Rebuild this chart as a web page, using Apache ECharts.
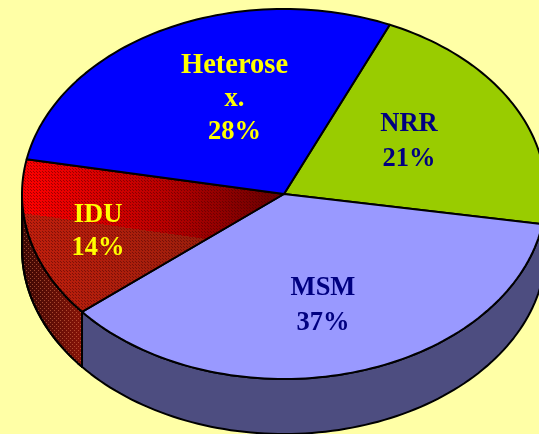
<!DOCTYPE html>
<html>
<head>
<meta charset="utf-8">
<style>
  html, body { margin: 0; padding: 0; background: #ffffa6; }
  #main { width: 539px; height: 434px; }
</style>
<script src="https://cdn.jsdelivr.net/npm/echarts@6/dist/echarts.min.js"></script>
</head>
<body>
<div id="main"></div>
<script>
// clockwise from the first slice, same order as the picture
const categories = ['NRR', 'MSM', 'IDU', 'Heterose\nx.'];
const percentLabels = ['21%', '37%', '14%', '28%'];
// slice sizes, they differ a little from the printed labels
const shares = [21, 36.4, 14, 28.6];

const startAngle = 23.8;
const depth = 55;
const topColors = ['#99cc00', '#9999ff', '#ff0000', '#0000ff'];
const sideColors = ['#4d6600', '#4d4d80', '#6a1008', '#000080'];
const textColors = ['#000080', '#000080', '#ffff00', '#ffff00'];
const labelPos = [[409, 142], [323, 306], [98, 232], [234.5, 99]];

function dither(size, color) {
  const c = document.createElement('canvas');
  c.width = c.height = size;
  const ctx = c.getContext('2d');
  ctx.fillStyle = color;
  ctx.fillRect(0, 0, 1, 1);
  ctx.fillRect(Math.floor(size / 2), Math.floor(size / 2), 1, 1);
  return c;
}
const topDots = { image: dither(3, 'rgba(60,0,0,0.45)'), repeat: 'repeat' };
const sideDots = { image: dither(4, 'rgba(220,120,80,0.55)'), repeat: 'repeat' };

const rows = [];
let acc = startAngle;
shares.forEach(function (s, i) {
  const sweep = s * 3.6;
  rows.push([acc, acc + sweep, i]);
  acc += sweep;
});

function renderSlice(params, api) {
  const a0 = api.value(0), a1 = api.value(1), i = api.value(2);
  const rim = function (deg) {
    const r = deg * Math.PI / 180;
    return api.coord([Math.sin(r), Math.cos(r)]);
  };
  const arc = function (from, to, dy) {
    const pts = [];
    const n = Math.ceil(Math.abs(to - from) / 1.5);
    for (let k = 0; k <= n; k++) {
      const p = rim(from + (to - from) * k / n);
      pts.push([p[0], p[1] + dy]);
    }
    return pts;
  };
  const children = [];
  const stroke = { stroke: '#000', lineWidth: 2, lineJoin: 'round' };

  // wall, only the part facing the viewer
  const s0 = Math.max(a0, 90), s1 = Math.min(a1, 270);
  if (s1 > s0) {
    const wall = arc(s0, s1, 0).concat(arc(s1, s0, depth));
    let wallFill = sideColors[i];
    if (categories[i] === 'IDU') {
      wallFill = {
        type: 'linear', global: true, x: 22, y: 0, x2: 84, y2: 0,
        colorStops: [{ offset: 0, color: '#3a0804' }, { offset: 1, color: '#8a1408' }]
      };
    }
    children.push({ type: 'polygon', shape: { points: wall }, style: Object.assign({ fill: wallFill }, stroke) });
    if (categories[i] === 'IDU') {
      children.push({ type: 'polygon', shape: { points: wall }, style: { fill: sideDots } });
      children.push({ type: 'polygon', shape: { points: wall }, style: Object.assign({ fill: 'none' }, stroke) });
    }
  }

  // top face
  const face = [api.coord([0, 0])].concat(arc(a0, a1, 0));
  if (categories[i] === 'IDU') {
    children.push({
      type: 'polygon', shape: { points: face },
      style: {
        fill: {
          type: 'linear', global: true, x: 22, y: 0, x2: 284, y2: 0,
          colorStops: [
            { offset: 0, color: '#ff0000' },
            { offset: 0.55, color: '#b80000' },
            { offset: 1, color: '#660000' }
          ]
        }
      }
    });
    // lighter band below the reflection line
    children.push({
      type: 'polygon', shape: { points: face },
      style: {
        fill: {
          type: 'linear', global: true, x: 128, y: 25, x2: 72, y2: 423,
          colorStops: [
            { offset: 0, color: 'rgba(150,50,20,0)' },
            { offset: 0.5, color: 'rgba(150,50,20,0)' },
            { offset: 0.5, color: 'rgba(150,50,20,0.6)' },
            { offset: 1, color: 'rgba(150,50,20,0.6)' }
          ]
        }
      }
    });
    children.push({ type: 'polygon', shape: { points: face }, style: { fill: topDots } });
    children.push({ type: 'polygon', shape: { points: face }, style: Object.assign({ fill: 'none' }, stroke) });
  } else {
    children.push({ type: 'polygon', shape: { points: face }, style: Object.assign({ fill: topColors[i] }, stroke) });
  }

  const isLong = categories[i].indexOf('\n') >= 0;
  const lines = categories[i].split('\n').map(function (t) {
    return t.length > 4 ? '{wide|' + t + '}' : t;
  });
  children.push({
    type: 'text',
    x: labelPos[i][0],
    y: labelPos[i][1],
    z2: 10,
    style: {
      text: lines.join('\n') + '\n' + percentLabels[i],
      fill: textColors[i],
      font: 'bold 26.5px "Liberation Serif"',
      lineHeight: isLong ? 33.5 : (categories[i] === 'IDU' ? 33 : 35),
      align: 'center',
      verticalAlign: 'middle',
      rich: {
        wide: {
          fill: textColors[i],
          font: 'bold 28.5px "Liberation Serif"',
          lineHeight: 33.5
        }
      }
    }
  });
  return { type: 'group', children: children };
}

const chart = echarts.init(document.getElementById('main'), null, { renderer: 'canvas' });
chart.setOption({
  animation: false,
  backgroundColor: '#ffffa6',
  // the pie runs a little past the right edge of the window
  grid: { left: 22, top: 9, width: 524, height: 370, outerBoundsMode: 'none' },
  xAxis: { type: 'value', min: -1, max: 1, show: false },
  yAxis: { type: 'value', min: -1, max: 1, show: false },
  series: [{
    type: 'custom',
    coordinateSystem: 'cartesian2d',
    clip: false,
    silent: true,
    encode: { x: 0, y: 1 },
    data: rows,
    renderItem: renderSlice
  }]
});
</script>
</body>
</html>
